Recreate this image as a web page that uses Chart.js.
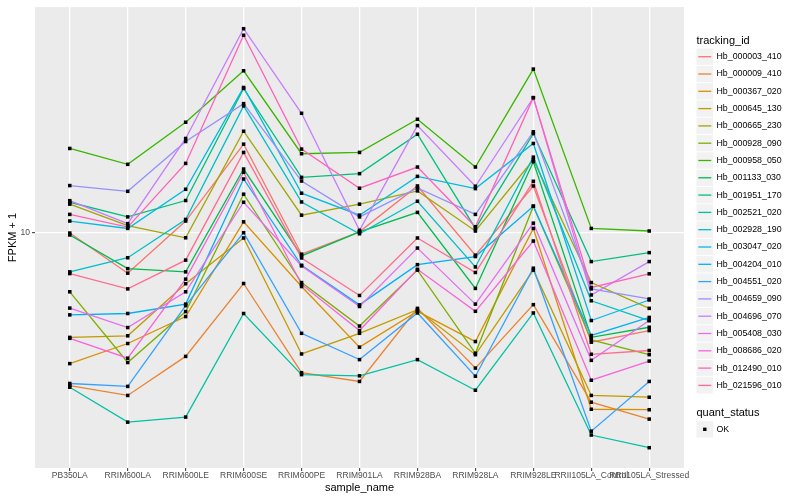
<!DOCTYPE html>
<html>
<head>
<meta charset="utf-8">
<script src="https://cdn.jsdelivr.net/npm/chart.js@4.4.0/dist/chart.umd.min.js"></script>
<style>
  body { margin: 0; background: #fff; }
  #wrap { width: 800px; height: 500px; }
</style>
</head>
<body>
<div id="wrap"><canvas id="myChart" width="800" height="500"></canvas></div>
<script>
var samples = ["PB350LA", "RRIM600LA", "RRIM600LE", "RRIM600SE", "RRIM600PE", "RRIM901LA",
               "RRIM928BA", "RRIM928LA", "RRIM928LE", "RRII105LA_Control", "RRII105LA_Stressed"]

var trackingIds = ["Hb_000003_410", "Hb_000009_410", "Hb_000367_020", "Hb_000645_130", "Hb_000665_230",
                   "Hb_000928_090", "Hb_000958_050", "Hb_001133_030", "Hb_001951_170", "Hb_002521_020",
                   "Hb_002928_190", "Hb_003047_020", "Hb_004204_010", "Hb_004551_020", "Hb_004659_090",
                   "Hb_004696_070", "Hb_005408_030", "Hb_008686_020", "Hb_012490_010", "Hb_021596_010"]

var colours = ["#F8766D", "#EA8331", "#D89000", "#C09B00", "#A3A500", "#7CAE00", "#39B600", "#00BB4E",
               "#00BF7D", "#00C1A3", "#00BFC4", "#00BAE0", "#00B0F6", "#35A2FF", "#9590FF", "#C77CFF",
               "#E76BF3", "#FA62DB", "#FF62BC", "#FF6C91"]

var yTicks = [10]
var quantStatus = ["OK"]

// FPKM + 1, one value per sample
var Hb_000003_410 = [10.00, 7.93, 10.72, 16.72, 8.85, 10.07, 13.13, 8.80, 13.13, 5.32, 5.69]
var Hb_000009_410 = [4.14, 3.91, 4.90, 7.47, 4.46, 4.24, 6.47, 4.58, 6.61, 3.76, 3.41]
var Hb_000367_020 = [4.70, 5.28, 6.17, 10.67, 7.34, 5.17, 6.36, 5.34, 10.27, 3.61, 3.60]
var Hb_000645_130 = [5.47, 5.52, 7.46, 9.72, 4.97, 5.60, 6.42, 4.95, 8.07, 3.91, 3.87]
var Hb_000665_230 = [11.82, 10.44, 9.73, 18.02, 11.09, 11.82, 12.76, 10.12, 15.28, 7.51, 6.47]
var Hb_000928_090 = [7.12, 4.73, 6.35, 12.52, 7.51, 5.84, 8.07, 4.99, 11.68, 5.39, 4.95]
var Hb_000958_050 = [16.31, 14.88, 18.98, 25.56, 15.82, 15.94, 19.31, 14.65, 25.81, 10.27, 10.12]
var Hb_001133_030 = [9.89, 8.14, 7.99, 14.48, 8.76, 10.07, 11.27, 7.26, 15.11, 5.47, 5.80]
var Hb_001951_170 = [11.95, 10.98, 12.07, 23.08, 13.80, 14.10, 17.71, 10.27, 17.78, 8.48, 8.93]
var Hb_002521_020 = [4.10, 3.35, 3.45, 6.28, 4.41, 4.38, 4.81, 4.03, 6.30, 3.11, 2.89]
var Hb_002928_190 = [7.99, 8.67, 10.82, 20.86, 11.97, 9.96, 12.02, 8.22, 15.51, 6.76, 6.03]
var Hb_003047_020 = [10.72, 10.27, 12.88, 23.21, 12.59, 11.09, 13.88, 12.93, 16.79, 6.03, 6.79]
var Hb_004204_010 = [6.23, 6.28, 6.63, 13.67, 8.30, 6.60, 8.33, 8.73, 11.68, 5.53, 6.14]
var Hb_004551_020 = [4.19, 4.12, 6.57, 10.02, 5.60, 4.81, 6.30, 4.37, 8.16, 3.18, 4.24]
var Hb_004659_090 = [13.16, 12.73, 16.98, 21.14, 13.51, 10.98, 12.98, 11.14, 17.96, 7.24, 6.83]
var Hb_004696_070 = [12.06, 10.56, 17.28, 32.60, 19.99, 10.16, 18.62, 13.11, 21.88, 6.99, 8.48]
var Hb_005408_030 = [6.48, 5.79, 7.12, 11.95, 8.27, 6.54, 9.17, 6.63, 10.59, 4.79, 6.03]
var Hb_008686_020 = [5.44, 4.85, 7.66, 14.21, 7.43, 5.69, 8.11, 6.36, 9.55, 4.27, 4.77]
var Hb_012490_010 = [11.14, 10.35, 14.96, 31.39, 16.25, 12.96, 14.65, 10.37, 21.88, 7.30, 7.90]
var Hb_021596_010 = [7.91, 7.24, 8.55, 15.94, 8.66, 6.97, 9.72, 7.96, 13.49, 4.96, 5.07]

var series = [Hb_000003_410, Hb_000009_410, Hb_000367_020, Hb_000645_130, Hb_000665_230,
              Hb_000928_090, Hb_000958_050, Hb_001133_030, Hb_001951_170, Hb_002521_020,
              Hb_002928_190, Hb_003047_020, Hb_004204_010, Hb_004551_020, Hb_004659_090,
              Hb_004696_070, Hb_005408_030, Hb_008686_020, Hb_012490_010, Hb_021596_010]

var FONT = "'Liberation Sans', Arial, sans-serif"

var datasets = []
var allPoints = []
$each = function(arr, fn){ for (var i = 0; i < arr.length; i++) fn(i, arr[i]) }

$each(series, function(i, vals){
    var pts = []
    $each(vals, function(j, v){
        pts.push({x: j, y: v})
        allPoints.push({x: j, y: v})
    })
    datasets.push({
        label: trackingIds[i],
        data: pts,
        borderColor: colours[i],
        borderWidth: 1.3,
        pointRadius: 0,
        fill: false,
        tension: 0,
        order: series.length - i
    })
})

// points go on top of every line, like geom_point after geom_line
datasets.push({
    label: quantStatus[0],
    data: allPoints,
    showLine: false,
    pointStyle: 'rect',
    pointRadius: 2.5,
    pointBackgroundColor: '#000',
    pointBorderWidth: 0,
    order: 0
})

var panelBg = {
    id: 'panelBg',
    beforeDraw: function(chart){
        var a = chart.chartArea, ctx = chart.ctx
        ctx.save()
        ctx.fillStyle = '#EBEBEB'
        ctx.fillRect(a.left, a.top, a.right - a.left, a.bottom - a.top)
        ctx.restore()
    }
}

var ggLegend = {
    id: 'ggLegend',
    afterDraw: function(chart){
        var ctx = chart.ctx
        var x0 = 696.5, step = 17.3, y0 = 56.7
        ctx.save()
        ctx.textBaseline = 'middle'
        ctx.textAlign = 'left'
        ctx.fillStyle = '#000'
        ctx.font = '11px ' + FONT
        ctx.fillText('tracking_id', x0, 40.5)
        $each(trackingIds, function(i, name){
            var cy = y0 + i * step
            ctx.fillStyle = '#F2F2F2'
            ctx.fillRect(x0, cy - 8.2, 16.6, 16.4)
            ctx.strokeStyle = colours[i]
            ctx.lineWidth = 1.3
            ctx.beginPath()
            ctx.moveTo(x0 + 1.8, cy)
            ctx.lineTo(x0 + 14.8, cy)
            ctx.stroke()
            ctx.fillStyle = '#000'
            ctx.font = '8.8px ' + FONT
            ctx.fillText(name, x0 + 20, cy)
        })
        ctx.font = '11px ' + FONT
        ctx.fillText('quant_status', x0, 412.7)
        var qy = 429.3
        ctx.fillStyle = '#F2F2F2'
        ctx.fillRect(x0, qy - 8.2, 16.6, 16.4)
        ctx.fillStyle = '#000'
        ctx.fillRect(x0 + 6.6, qy - 1.7, 3.4, 3.4)
        ctx.font = '8.8px ' + FONT
        ctx.fillText(quantStatus[0], x0 + 20, qy)
        ctx.restore()
    }
}

var myChart = document.getElementById("myChart").getContext('2d')

var chart = new Chart(myChart, {
    type: 'line',
    data: { datasets: datasets },
    options: {
        responsive: false,
        animation: false,
        devicePixelRatio: 1,
        events: [],
        layout: { padding: { top: 5, right: 116, bottom: 0, left: 0 } },
        plugins: { legend: { display: false }, tooltip: { enabled: false } },
        scales: {
            x: {
                type: 'linear',
                min: -0.6,
                max: 10.6,
                afterBuildTicks: function(scale){
                    scale.ticks = samples.map(function(s, i){ return {value: i} })
                },
                afterFit: function(scale){ scale.height = 32 },
                ticks: {
                    autoSkip: false,
                    maxRotation: 0,
                    minRotation: 0,
                    padding: 0,
                    color: '#4D4D4D',
                    font: { family: FONT, size: 8.5 },
                    callback: function(v, i){ return samples[i] }
                },
                grid: { color: '#FFFFFF', lineWidth: 1.3, tickLength: 3, tickColor: '#333333', tickWidth: 1 },
                border: { display: false },
                title: {
                    display: true,
                    text: 'sample_name',
                    color: '#000',
                    font: { family: FONT, size: 11 },
                    padding: { top: 0, bottom: 5.4 }
                }
            },
            y: {
                type: 'logarithmic',
                min: 2.57,
                max: 36.94,
                afterBuildTicks: function(scale){
                    scale.ticks = yTicks.map(function(v){ return {value: v} })
                },
                afterFit: function(scale){ scale.width = 35 },
                ticks: {
                    padding: 2,
                    color: '#4D4D4D',
                    font: { family: FONT, size: 8.5 },
                    callback: function(v){ return String(v) }
                },
                grid: { color: '#FFFFFF', lineWidth: 1.3, tickLength: 3, tickColor: '#333333', tickWidth: 1 },
                border: { display: false },
                title: {
                    display: true,
                    text: 'FPKM + 1',
                    color: '#000',
                    font: { family: FONT, size: 11 },
                    padding: { top: 6.2, bottom: 0 }
                }
            }
        }
    },
    plugins: [panelBg, ggLegend]
})
</script>
</body>
</html>
